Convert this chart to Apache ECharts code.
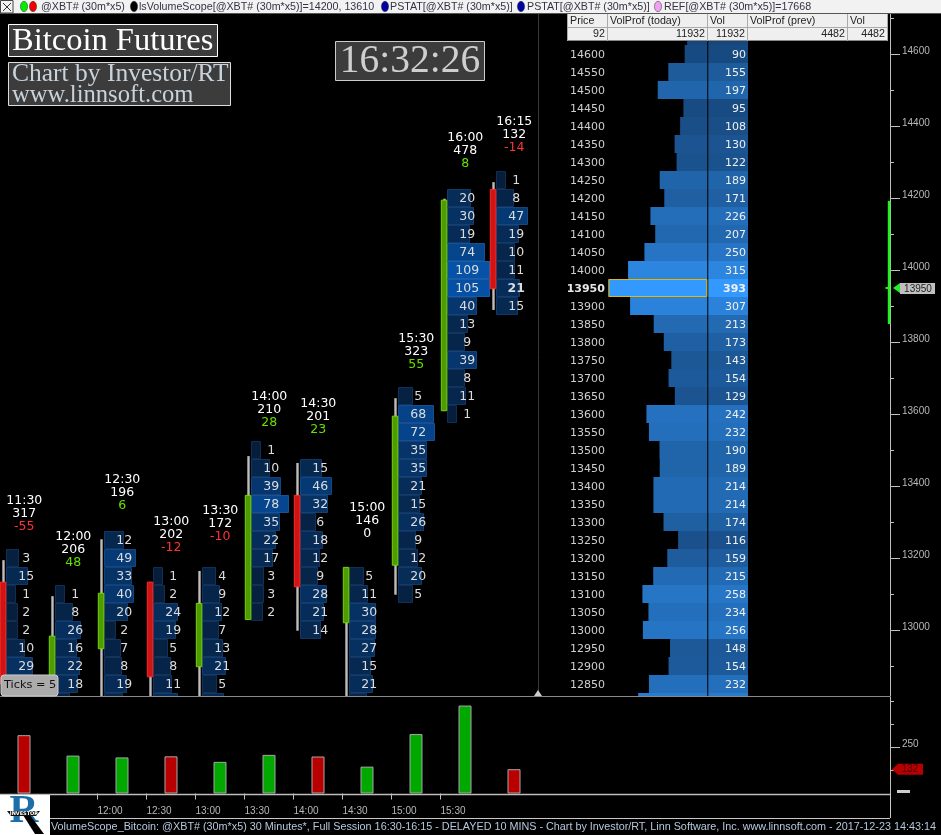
<!DOCTYPE html>
<html><head><meta charset="utf-8">
<style>html,body{margin:0;padding:0;background:#000;overflow:hidden}#c{width:941px;height:835px}</style>
<script src="https://cdn.jsdelivr.net/npm/echarts@6/dist/echarts.min.js"></script>
</head><body><div id="c"></div>
<script>
// ---------- data ----------
const barTimes   = ['11:30','12:00','12:30','13:00','13:30','14:00','14:30','15:00','15:30','16:00','16:15'];
const barVolumes = [317,206,196,202,172,210,201,146,323,478,132];
const barDeltas  = [-55,48,6,-12,-10,28,23,0,55,8,-14];
const statAnchors= [13287,13187,13344,13228,13258,13576,13556,13267,13737,14295,14339];
const barUp      = [false,true,true,false,true,true,false,true,true,true,false];
const candleBodyTop = [13133,12983,13102,13133,13074,13374,13374,13174,13594,14194,14224];
const candleBodyBot = [12850,12820,12948,12870,12898,13029,13120,13020,13180,13609,13948];
const candleHigh    = [13194,13094,13252,13133,13164,13483,13464,13174,13644,14198,14244];
const candleLow     = [12800,12800,12800,12800,12800,13029,12998,12800,13098,13609,13889];
const fpTopPrice = [13200,13100,13250,13150,13150,13500,13450,13150,13650,14200,14250];
const fpVolumes = [
  [3,15,1,2,2,10,29,21],
  [1,8,26,16,22,18,5],
  [12,49,33,40,20,2,7,8,19,10],
  [1,2,24,19,5,8,11,22],
  [4,9,12,7,13,21,5,16],
  [1,10,39,78,35,22,17,3,3,2],
  [15,46,32,6,18,12,9,28,21,14],
  [5,11,30,28,27,15,21,9],
  [5,68,72,35,35,21,15,26,9,12,20,5],
  [20,30,19,74,109,105,40,13,9,39,8,11,1],
  [1,8,47,19,10,11,21,15]
];
const profilePrices = [14650,14600,14550,14500,14450,14400,14350,14300,14250,14200,14150,14100,14050,14000,13950,13900,13850,13800,13750,13700,13650,13600,13550,13500,13450,13400,13350,13300,13250,13200,13150,13100,13050,13000,12950,12900,12850,12800];
const profileVols   = [80,90,155,197,95,108,130,122,189,171,226,207,250,315,393,307,213,173,143,154,129,242,232,190,189,214,214,174,116,159,215,258,234,256,148,154,232,275];
const lastPrice = 13950;
const dayHigh = 14192, dayLow = 13850;
const lastVolume = 132;
const priceMajorTicks = [13000,13200,13400,13600,13800,14000,14200,14400,14600];
const priceMinorTicks = [12900,13100,13300,13500,13700,13900,14100,14300,14500,14700];
const volMajorTicks = [250];
const volMinorTicks = [125,375,500];
const timeTickPos = [1.5,2.5,3.5,4.5,5.5,6.5,7.5,8.5];
const timeTickLabels = ['12:00','12:30','13:00','13:30','14:00','14:30','15:00','15:30'];

// ---------- fonts & helpers ----------
const UI = '"DejaVu Sans",sans-serif', THIN = '"Liberation Sans",sans-serif', SERIF = '"Liberation Serif",serif';
const mix = (a,b,t)=>'rgb('+a.map((c,i)=>Math.round(c+(b[i]-c)*t)).join(',')+')';
const fpFill = v=>mix([6,28,55],[5,82,168],Math.pow(Math.min(v,110)/110,0.72));
const fpEdge = v=>mix([16,44,78],[28,92,170],Math.pow(Math.min(v,110)/110,0.72));
const profFill = v=>mix([15,50,90],[51,153,255],v/393);
const BAR_PX = 49;                       // px per bar in the main pane
const fpW = v=>(2.63+6.07*Math.pow(v,0.4))/BAR_PX;
const rowH = 50;

const fpRows=[];
fpVolumes.forEach((arr,i)=>arr.forEach((v,j)=>fpRows.push([i,fpTopPrice[i]-j*rowH,v])));

const P_TOP=13, P_BOT=696, P_R=890;
const yMin=14000-(P_BOT-270)/0.36, yMax=14000+(270-P_TOP)/0.36;

function lineEl(x1,y1,x2,y2,c,w,z){return {type:'line',z:z||50,silent:true,shape:{x1,y1,x2,y2},style:{stroke:c,lineWidth:w||1}};}
function rectEl(x,y,w,h,fill,stroke,z,r){return {type:'rect',z:z||50,silent:true,shape:{x,y,width:w,height:h,r:r||0},style:{fill,stroke:stroke||null,lineWidth:1}};}
function textEl(x,y,t,font,fill,align,z,weight){return {type:'text',z:z||51,silent:true,x,y,style:{text:t,font:(weight?weight+' ':'')+font,fill,align:align||'left',verticalAlign:'middle'}};}
function dot(x,c){return {type:'ellipse',z:61,silent:true,shape:{cx:x,cy:6.5,rx:3.6,ry:5.2},style:{fill:c,stroke:'#333',lineWidth:0.5}};}

const tf='10.7px '+THIN;
const chrome=[
  // pane dividers
  lineEl(538.5,13,538.5,696,'#3a3a3a',1,1),
  lineEl(0,696.5,P_R,696.5,'#8a8a8a',1,40),
  {type:'polygon',z:41,silent:true,shape:{points:[[534,696],[542,696],[538,690]]},style:{fill:'#ccc'}},
  lineEl(0,794.5,P_R,794.5,'#bdbdbd',1.5,40),
  lineEl(P_R+.5,793,P_R+.5,818,'#c8c8c8',1,40),
  lineEl(50,818.5,P_R,818.5,'#c8c8c8',1,40),
  rectEl(897,790,13,3,'#ccc',null,39),
  // toolbar
  rectEl(0,0,941,13,'#f2f2f2',null,60),
  lineEl(0,13.5,941,13.5,'#555',1,60),
  rectEl(0.5,0.5,12.5,12.5,'#f2f2f2','#444',61),
  lineEl(3,3,11,11,'#333',1,62), lineEl(11,3,3,11,'#333',1,62),
  dot(24,'#00ee00'), dot(33,'#ee0000'),
  textEl(41,7,'@XBT# (30m*x5)',tf,'#334',null,61),
  dot(134,'#000'),
  textEl(139,7,'lsVolumeScope[@XBT# (30m*x5)]=14200, 13610',tf,'#334',null,61),
  dot(385,'#0000a0'),
  textEl(390,7,'PSTAT[@XBT# (30m*x5)]',tf,'#334',null,61),
  dot(521,'#0000a0'),
  textEl(527,7,'PSTAT[@XBT# (30m*x5)]',tf,'#334',null,61),
  dot(658,'#f0a0f0'),
  textEl(664,7,'REF[@XBT# (30m*x5)]=17668',tf,'#334',null,61),
  // column table
  rectEl(567,14,321,27,'#efefef',null,60),
  lineEl(567,27.5,888,27.5,'#aaa',1,61), lineEl(567,40.5,888,40.5,'#888',1,61),
  lineEl(567.5,14,567.5,41,'#aaa',1,61), lineEl(607.5,14,607.5,41,'#aaa',1,61), lineEl(707.5,14,707.5,41,'#aaa',1,61),
  lineEl(747.5,14,747.5,41,'#aaa',1,61), lineEl(847.5,14,847.5,41,'#aaa',1,61), lineEl(887.5,14,887.5,41,'#aaa',1,61),
  textEl(570,21,'Price',tf,'#222',null,62), textEl(610,21,'VolProf (today)',tf,'#222',null,62), textEl(710,21,'Vol',tf,'#222',null,62),
  textEl(750,21,'VolProf (prev)',tf,'#222',null,62), textEl(850,21,'Vol',tf,'#222',null,62),
  textEl(605,34,'92',tf,'#222','right',62), textEl(705,34,'11932',tf,'#222','right',62), textEl(745,34,'11932',tf,'#222','right',62),
  textEl(845,34,'4482',tf,'#222','right',62), textEl(885,34,'4482',tf,'#222','right',62),
  // title boxes
  rectEl(8.5,24.5,209,32,'#3c3c3c','#fff',30),
  textEl(12,41.5,'Bitcoin Futures','32.5px '+SERIF,'#fff',null,31),
  rectEl(8.5,62.5,222,43,'#3c3c3c','#ddd',30),
  textEl(12,74.5,'Chart by Investor/RT','25.5px '+SERIF,'#c9d3dc',null,31),
  textEl(12,95.5,'www.linnsoft.com','24.6px '+SERIF,'#c9d3dc',null,31),
  rectEl(335.5,41.5,149,39,'#3c3c3c','#ccc',30),
  textEl(410,61.5,'16:32:26','39.5px '+SERIF,'#cfcfcf','center',31),
  // ticks badge
  rectEl(1,675,57,21,'#ababab','#ccc',45,3),
  textEl(4,685.5,'Ticks = 5','11.3px '+UI,'#111',null,46),
  // logo
  rectEl(0,795,50,40,'#fff',null,45),
  textEl(24,812,'R','bold 40px '+SERIF,'#1c6ea8','center',46),
  {type:'polygon',z:47,silent:true,shape:{points:[[23,815],[30,815],[44,834],[35,834]]},style:{fill:'#000'}},
  {type:'polygon',z:48,silent:true,shape:{points:[[7,811],[40,811],[36,816],[11,816]]},style:{fill:'#111'}},
  textEl(24,813.5,'INVESTOR','bold 5px '+UI,'#fff','center',49),
  // status line
  textEl(51,827.5,'VolumeScope_Bitcoin: @XBT# (30m*x5) 30 Minutes*, Full Session 16:30-16:15 - DELAYED 10 MINS - Chart by Investor/RT, Linn Software, Inc. www.linnsoft.com - 2017-12-23 14:43:14','10.8px '+THIN,'#b6c8dc',null,46)
];

const colPriceX=407, cellL=-4, cellR=-162;
const axisGrey='#c0c0c0', axLab='#b8b8b8';
const tickLabel={show:true,margin:12,color:axLab,fontFamily:'Liberation Sans',fontSize:10,verticalAlign:'bottom',lineHeight:6,formatter:v=>String(v)};
const hiddenX=(g)=>({gridIndex:g,type:'value',min:0,max:1,show:false});

const option={
  animation:false,
  backgroundColor:'#000',
  tooltip:{show:false},
  legend:{show:false},
  graphic:{elements:chrome},
  grid:[
    {left:0,top:P_TOP,width:P_R,height:P_BOT-P_TOP},
    {left:560,top:P_TOP,width:188,height:P_BOT-P_TOP},
    {left:0,top:697,width:P_R,height:96.5},
    {left:0,top:P_TOP,width:P_R,height:P_BOT-P_TOP},
    {left:0,top:697,width:P_R,height:96.5}
  ],
  xAxis:[
    {gridIndex:0,type:'value',min:-6.3/BAR_PX,max:(P_R-6.3)/BAR_PX,show:false},
    {gridIndex:1,type:'value',inverse:true,min:cellR,max:(707.3-560)/0.2515,show:false},
    {gridIndex:2,type:'value',min:-24/BAR_PX,max:(P_R-24)/BAR_PX,
     axisLine:{show:false},splitLine:{show:false},
     axisTick:{show:true,length:6,lineStyle:{color:axisGrey},customValues:timeTickPos},
     axisLabel:{show:true,customValues:timeTickPos,margin:13,align:'left',color:axLab,fontFamily:'Liberation Sans',fontSize:10,
       formatter:v=>timeTickLabels[timeTickPos.indexOf(v)]||''}},
    hiddenX(3),hiddenX(4)
  ],
  yAxis:[
    {gridIndex:0,type:'value',position:'right',min:yMin,max:yMax,splitLine:{show:false},
     axisLine:{show:true,onZero:false,lineStyle:{color:axisGrey}},
     axisTick:{show:true,length:10,lineStyle:{color:axisGrey},customValues:priceMajorTicks},
     axisLabel:Object.assign({customValues:priceMajorTicks},tickLabel)},
    {gridIndex:3,type:'value',position:'right',min:yMin,max:yMax,splitLine:{show:false},
     axisLine:{show:false,onZero:false},axisLabel:{show:false},
     axisTick:{show:true,length:4,lineStyle:{color:axisGrey},customValues:priceMinorTicks}},
    {gridIndex:1,type:'value',min:yMin,max:yMax,show:false},
    {gridIndex:2,type:'value',position:'right',min:0,max:96.5/0.184,splitLine:{show:false},
     axisLine:{show:true,onZero:false,lineStyle:{color:axisGrey}},
     axisTick:{show:true,length:10,lineStyle:{color:axisGrey},customValues:volMajorTicks},
     axisLabel:Object.assign({customValues:volMajorTicks},tickLabel)},
    {gridIndex:4,type:'value',position:'right',min:0,max:96.5/0.184,splitLine:{show:false},
     axisLine:{show:false,onZero:false},axisLabel:{show:false},
     axisTick:{show:true,length:4,lineStyle:{color:axisGrey},customValues:volMinorTicks}}
  ],
  series:[
    // footprint rows
    {type:'custom',name:'footprint',xAxisIndex:0,yAxisIndex:0,clip:true,z:5,data:fpRows,
     renderItem:(p,api)=>{
       const i=api.value(0),pr=api.value(1),v=api.value(2);
       const tl=api.coord([i,pr+rowH/2]),br=api.coord([i+fpW(v),pr-rowH/2]);
       const mid=api.coord([i+20/BAR_PX,pr]);
       const strong=(i===10&&v===21);
       return {type:'group',children:[
         {type:'rect',shape:{x:Math.round(tl[0])+.5,y:Math.round(tl[1])+.5,width:Math.round(br[0]-tl[0]),height:Math.round(br[1]-tl[1])-1},
          style:{fill:fpFill(v),stroke:fpEdge(v),lineWidth:1}},
         {type:'text',z2:5,x:mid[0],y:mid[1]+1,style:{text:String(v),fill:'#dcdcdc',font:(strong?'bold ':'')+'12.5px '+UI,align:'center',verticalAlign:'middle'}}
       ]};
     }},
    // candles
    {type:'custom',name:'candles',xAxisIndex:0,yAxisIndex:0,clip:true,z:6,data:barTimes.map((t,i)=>[i,candleBodyTop[i],candleBodyBot[i],candleHigh[i],candleLow[i],barUp[i]?1:0]),
     renderItem:(p,api)=>{
       const i=api.value(0);
       const t=api.coord([i,api.value(1)]),b=api.coord([i,api.value(2)]),h=api.coord([i,api.value(3)]),l=api.coord([i,api.value(4)]);
       const up=api.value(5)===1,x=t[0];
       return {type:'group',children:[
         {type:'rect',shape:{x:x-4,y:h[1],width:2.4,height:l[1]-h[1]},style:{fill:'#bdbdbd'}},
         {type:'rect',shape:{x:x-6,y:t[1],width:5.5,height:b[1]-t[1]},
          style:{fill:up?'#4f9c00':'#cf1414',stroke:up?'#74d400':'#ff2a2a',lineWidth:1}}
       ]};
     }},
    // bar stats (time, volume, delta)
    {type:'custom',name:'stats',xAxisIndex:0,yAxisIndex:0,clip:true,z:7,data:barTimes.map((t,i)=>[i,statAnchors[i],barVolumes[i],barDeltas[i]]),
     renderItem:(p,api)=>{
       const i=api.value(0),c=api.coord([i+18/BAR_PX,api.value(1)]),d=barDeltas[i];
       const mk=(s,dy,col)=>({type:'text',x:c[0],y:c[1]+dy,style:{text:s,fill:col,font:'12.5px '+UI,align:'center',verticalAlign:'middle'}});
       return {type:'group',children:[
         mk(barTimes[i],-26,'#fff'),mk(String(barVolumes[i]),-13,'#fff'),
         mk(String(d),0,d<0?'#ff3232':d>0?'#66e000':'#fff')
       ]};
     }},
    // day range & last-price marker on the axis
    {type:'custom',name:'last',xAxisIndex:0,yAxisIndex:0,clip:false,z:8,data:[[lastPrice,dayHigh,dayLow]],
     renderItem:(p,api)=>{
       const a=api.coord([(P_R-6.3)/BAR_PX,api.value(0)]),h=api.coord([(P_R-6.3)/BAR_PX,api.value(1)]),l=api.coord([(P_R-6.3)/BAR_PX,api.value(2)]);
       const x=a[0],y=a[1];
       return {type:'group',children:[
         {type:'rect',shape:{x:x-2.2,y:h[1],width:2.6,height:l[1]-h[1]},style:{fill:'#22f022'}},
         {type:'rect',shape:{x:x-4.5,y:y-1,width:3,height:2},style:{fill:'#22f022'}},
         {type:'polygon',shape:{points:[[x+3,y],[x+10,y-5],[x+10,y+5]]},style:{fill:'#22f022'}},
         {type:'rect',shape:{x:x+10,y:y-5,width:35,height:11},style:{fill:'#c0c0c0'}},
         {type:'text',x:x+28,y:y+1,style:{text:String(api.value(0)),fill:'#222',font:'10px '+THIN,align:'center',verticalAlign:'middle'}}
       ]};
     }},
    // volume profile
    {type:'custom',name:'profile',xAxisIndex:1,yAxisIndex:2,clip:true,z:5,data:profilePrices.map((p,i)=>[p,profileVols[i]]),
     renderItem:(p,api)=>{
       const pr=api.value(0),v=api.value(1);
       const tl=api.coord([v,pr+rowH/2]),br=api.coord([0,pr-rowH/2]);
       const cl=api.coord([cellL,pr+rowH/2]),cr=api.coord([cellR,pr-rowH/2]);
       const mid=api.coord([colPriceX,pr]),vt=api.coord([cellR+8,pr]);
       const top=pr===lastPrice,col=profFill(v);
       const f=(top?'bold ':'')+'11px '+UI;
       const kids=[
         {type:'rect',shape:{x:tl[0],y:tl[1],width:br[0]-tl[0],height:br[1]-tl[1]},style:{fill:col}},
         {type:'rect',shape:{x:cl[0],y:cl[1],width:cr[0]-cl[0],height:cr[1]-cl[1]},style:{fill:col}},
         {type:'text',z2:5,x:vt[0],y:vt[1]+1,style:{text:String(v),fill:'#f0f0f0',font:f,align:'right',verticalAlign:'middle'}},
         {type:'text',z2:5,x:mid[0],y:mid[1]+1,style:{text:String(pr),fill:top?'#e6e6e6':'#cfcfcf',font:f,align:'right',verticalAlign:'middle'}}
       ];
       if(top) kids.push({type:'rect',z2:4,shape:{x:tl[0]+.5,y:tl[1]+.5,width:br[0]-tl[0]-1,height:br[1]-tl[1]-1},style:{fill:null,stroke:'#e6b800',lineWidth:1}});
       return {type:'group',children:kids};
     }},
    // volume bars
    {type:'bar',name:'volume',xAxisIndex:2,yAxisIndex:3,barWidth:13,z:5,
     data:barVolumes.map((v,i)=>({value:[i,v],itemStyle:{color:barUp[i]?'#00a800':'#b80000',borderColor:'#a8a8a8',borderWidth:1}}))},
    // last-volume tag
    {type:'custom',name:'lastVol',xAxisIndex:2,yAxisIndex:3,clip:false,z:8,data:[[lastVolume]],
     renderItem:(p,api)=>{
       const c=api.coord([(P_R-24)/BAR_PX,api.value(0)]),x=c[0],y=c[1];
       return {type:'group',children:[
         {type:'polygon',shape:{points:[[x+2,y],[x+8,y-5.5],[x+33,y-5.5],[x+33,y+5.5],[x+8,y+5.5]]},style:{fill:'#b80000'}},
         {type:'text',x:x+20,y:y+.5,style:{text:String(api.value(0)),fill:'#4a0000',font:'10px '+THIN,align:'center',verticalAlign:'middle'}}
       ]};
     }}
  ]
};
const chart=echarts.init(document.getElementById('c'),null,{renderer:'canvas'});
chart.setOption(option);
</script></body></html>
